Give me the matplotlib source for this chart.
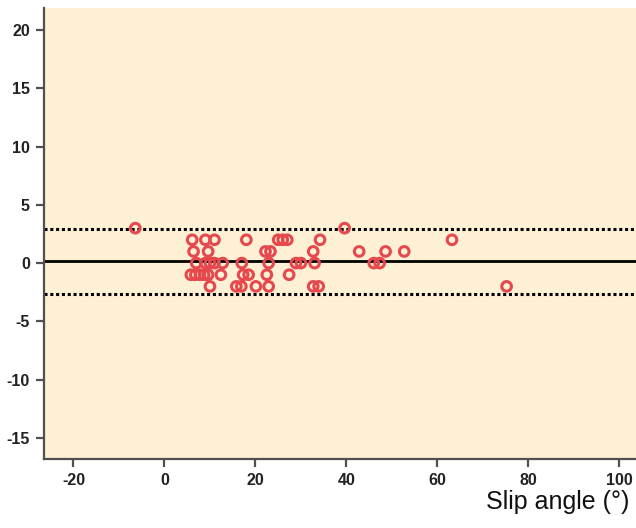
import numpy as np
import matplotlib
matplotlib.use("Agg")
import matplotlib.pyplot as plt

# slip angle (deg) vs difference, grouped by difference
x_p3 = [-6.4, 39.6]
x_p2 = [6.1, 9.0, 11.0, 18.0, 25.0, 26.0, 27.0, 34.2, 63.2]
x_p1 = [6.4, 9.6, 22.2, 23.3, 32.7, 42.8, 48.6, 52.7]
x_0 = [7.0, 9.0, 10.0, 11.0, 12.8, 17.0, 22.9, 28.9, 30.0, 33.0, 46.0, 47.3]
x_m1 = [5.8, 6.8, 7.8, 8.7, 9.6, 12.4, 17.3, 18.5, 22.5, 27.4]
x_m2 = [10.0, 15.8, 16.9, 20.1, 22.9, 32.7, 33.9, 75.2]

mean_diff = 0.15
upper_loa = 2.95
lower_loa = -2.65

xticks = [-20, 0, 20, 40, 60, 80, 100]
yticks = [-15, -10, -5, 0, 5, 10, 15, 20]

xs = x_p3 + x_p2 + x_p1 + x_0 + x_m1 + x_m2
ys = [3]*len(x_p3) + [2]*len(x_p2) + [1]*len(x_p1) + [0]*len(x_0) + [-1]*len(x_m1) + [-2]*len(x_m2)

plt.rcParams['font.family'] = ['Liberation Sans', 'DejaVu Sans']
plt.rcParams['axes.unicode_minus'] = False

fig = plt.figure(figsize=(6.36, 5.28), dpi=100)
ax = fig.add_axes([0.069, 0.131, 0.95, 0.854])
ax.set_facecolor('#fdf0d5')

ax.axhline(mean_diff, color='black', lw=2.0, zorder=2)
ax.axhline(upper_loa, color='black', lw=2.2, linestyle=(0, (1, 0.9)), zorder=2)
ax.axhline(lower_loa, color='black', lw=2.2, linestyle=(0, (1, 0.9)), zorder=2)

ax.scatter(xs, ys, s=48, facecolors='none', edgecolors='#e5484d', linewidths=2.2, zorder=3)

ax.set_xlim(-26.5, 106.3)
ax.set_ylim(-16.8, 21.9)
ax.set_xticks(xticks)
ax.set_yticks(yticks)

for side in ['top', 'right']:
    ax.spines[side].set_visible(False)
for side in ['left', 'bottom']:
    ax.spines[side].set_color('#505050')
    ax.spines[side].set_linewidth(1.6)

ax.tick_params(direction='out', length=6, width=1.6, color='#505050',
               labelsize=11.5, labelcolor='#222222', pad=4)
for lab in ax.get_xticklabels() + ax.get_yticklabels():
    lab.set_fontweight('bold')

fig.text(0.99, 0.026, 'Slip angle (°)', ha='right', va='bottom', fontsize=18, color='#111111')

fig.savefig('out.png', dpi=100)
